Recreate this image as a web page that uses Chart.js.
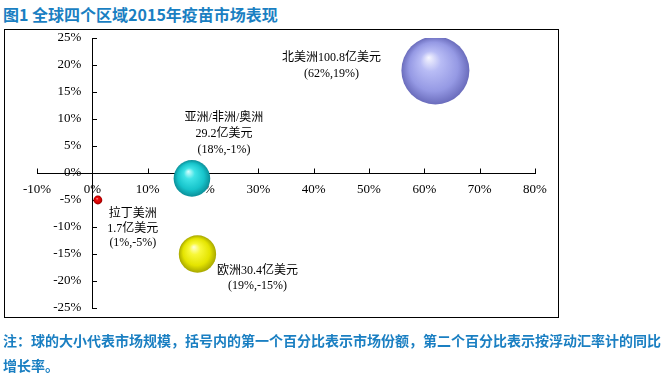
<!DOCTYPE html>
<html>
<head>
<meta charset="utf-8">
<script src="https://cdn.jsdelivr.net/npm/chart.js@4.4.1/dist/chart.umd.min.js"></script>
<style>
  html, body { margin: 0; padding: 0; background: #fff; width: 669px; height: 392px; overflow: hidden; }
  #title { position: absolute; left: 3px; top: 4px; font: bold 16px 'Noto Sans CJK SC', sans-serif; color: #1a7fc2; line-height: 20px; white-space: nowrap; }
  #frame { position: absolute; left: 4px; top: 29px; width: 553px; height: 287px; border: 1px solid #000; }
  #wrap { position: absolute; left: 0; top: 0; width: 669px; height: 392px; }
  #note { position: absolute; left: 3px; top: 328px; width: 666px; font: bold 14px 'Noto Sans CJK SC', sans-serif; color: #1a7fc2; line-height: 25px; }
</style>
</head>
<body>
<div id="title">图1 全球四个区域2015年疫苗市场表现</div>
<div id="frame"></div>
<div id="wrap"><canvas id="c" width="669" height="392"></canvas></div>
<div id="note">注：球的大小代表市场规模，括号内的第一个百分比表示市场份额，第二个百分比表示按浮动汇率计的同比增长率。</div>
<script>
// ---- data ----
const regions = ['北美洲', '亚洲/非洲/奥洲', '欧洲', '拉丁美洲'];
const marketShare = [62, 18, 19, 1];        // x, %
const growthRate = [19, -1, -15, -5];       // y, %
const marketSize = [100.8, 29.2, 30.4, 1.7]; // 亿美元
const xTicks = [-10, 0, 10, 20, 30, 40, 50, 60, 70, 80];
const yTicks = [-25, -20, -15, -10, -5, 0, 5, 10, 15, 20, 25];

// ---- styles ----
const sphereColors = [
  ['#f6f6ff', '#b8bcf5', '#9599e4', '#6a6cbc'],
  ['#d8ffff', '#3fe3e6', '#17c4cb', '#0b8f99'],
  ['#ffffd8', '#f8f838', '#e4e400', '#a8a800'],
  ['#ff9a9a', '#f01010', '#d00000', '#900000']
];
const maxRadius = 34;
const tickFont = { family: "'Liberation Serif', serif", size: 13 };
// label layout: lines and offsets (px) from bubble centre
const labelLayout = [
  { dx: -104, dy: [-13, 3], lines: i => [regions[i] + marketSize[i] + '亿美元', '(' + marketShare[i] + '%,' + growthRate[i] + '%)'] },
  { dx: 32, dy: [-61, -45, -29], lines: i => [regions[i], marketSize[i] + '亿美元', '(' + marketShare[i] + '%,' + growthRate[i] + '%)'] },
  { dx: 60, dy: [17, 32], lines: i => [regions[i] + marketSize[i] + '亿美元', '(' + marketShare[i] + '%,' + growthRate[i] + '%)'] },
  { dx: 35, dy: [14, 29, 43], lines: i => [regions[i], marketSize[i] + '亿美元', '(' + marketShare[i] + '%,' + growthRate[i] + '%)'] }
];

const points = regions.map((r, i) => ({
  x: marketShare[i], y: growthRate[i],
  r: maxRadius * Math.sqrt(marketSize[i] / Math.max(...marketSize))
}));

function sphereFill(ctx) {
  const i = ctx.dataIndex;
  const cols = sphereColors[i] || sphereColors[0];
  const chart = ctx.chart;
  if (!chart.chartArea || !chart.scales.x || ctx.raw == null) return cols[2];
  const cx = chart.scales.x.getPixelForValue(ctx.raw.x);
  const cy = chart.scales.y.getPixelForValue(ctx.raw.y);
  const r = ctx.raw.r;
  if (!isFinite(cx) || !isFinite(cy)) return cols[2];
  const g = chart.ctx.createRadialGradient(cx - 0.2 * r, cy - 0.38 * r, 0, cx, cy, r);
  g.addColorStop(0, cols[0]);
  g.addColorStop(0.3, cols[1]);
  g.addColorStop(0.72, cols[2]);
  g.addColorStop(1, cols[3]);
  return g;
}

// y labels sit left of the centred y axis with a gap
const yLabelGap = {
  id: 'yLabelGap',
  beforeDraw(chart) {
    const ys = chart.scales.y;
    const items = ys.getLabelItems(chart.chartArea);
    if (!items._shifted) {
      items.forEach(it => { it.options.translation[0] -= 11; });
      items._shifted = true;
    }
  }
};

// tick marks pointing into the plot (up for x, right for y), under the bubbles
const innerTicks = {
  id: 'innerTicks',
  beforeDatasetsDraw(chart) {
    const c = chart.ctx, xs = chart.scales.x, ys = chart.scales.y;
    const x0 = xs.getPixelForValue(0), y0 = ys.getPixelForValue(0);
    c.save();
    c.strokeStyle = '#000';
    c.lineWidth = 1;
    c.beginPath();
    xTicks.forEach(v => { const px = Math.round(xs.getPixelForValue(v)) + 0.5; c.moveTo(px, Math.round(y0) + 0.5); c.lineTo(px, Math.round(y0) - 4.5); });
    yTicks.forEach(v => { const py = Math.round(ys.getPixelForValue(v)) + 0.5; c.moveTo(Math.round(x0) + 0.5, py); c.lineTo(Math.round(x0) + 5, py); });
    c.stroke();
    c.restore();
  }
};

const bubbleLabels = {
  id: 'bubbleLabels',
  afterDatasetsDraw(chart) {
    const c = chart.ctx, xs = chart.scales.x, ys = chart.scales.y;
    c.save();
    c.fillStyle = '#000';
    c.font = "12px 'Liberation Serif', 'Noto Sans CJK SC', serif";
    c.textAlign = 'center';
    c.textBaseline = 'middle';
    regions.forEach((r, i) => {
      const cx = xs.getPixelForValue(marketShare[i]);
      const cy = ys.getPixelForValue(growthRate[i]);
      const L = labelLayout[i];
      L.lines(i).forEach((t, k) => c.fillText(t, cx + L.dx, cy + L.dy[k]));
    });
    c.restore();
  }
};

new Chart(document.getElementById('c'), {
  type: 'bubble',
  data: {
    datasets: [{
      data: points,
      backgroundColor: sphereFill,
      hoverBackgroundColor: sphereFill,
      borderWidth: 0,
      hoverBorderWidth: 0
    }]
  },
  options: {
    responsive: false,
    animation: false,
    events: [],
    layout: { padding: { left: 37, right: 134, top: 38, bottom: 84 } },
    plugins: { legend: { display: false }, tooltip: { enabled: false }, title: { display: false } },
    scales: {
      x: {
        type: 'linear', min: -10, max: 80, position: { y: 0 },
        afterBuildTicks: s => { s.ticks = xTicks.map(v => ({ value: v })); },
        grid: { display: true, drawOnChartArea: false, drawTicks: false },
        border: { display: true, color: '#000', width: 1 },
        ticks: { padding: 9, color: '#000', font: tickFont, callback: v => v + '%', maxRotation: 0, autoSkip: false }
      },
      y: {
        type: 'linear', min: -25, max: 25, position: { x: 0 },
        afterBuildTicks: s => { s.ticks = yTicks.map(v => ({ value: v })); },
        grid: { display: true, drawOnChartArea: false, drawTicks: false },
        border: { display: true, color: '#000', width: 1 },
        ticks: { padding: 0, color: '#000', font: tickFont, callback: v => v + '%', autoSkip: false }
      }
    }
  },
  plugins: [yLabelGap, innerTicks, bubbleLabels]
});
</script>
</body>
</html>
